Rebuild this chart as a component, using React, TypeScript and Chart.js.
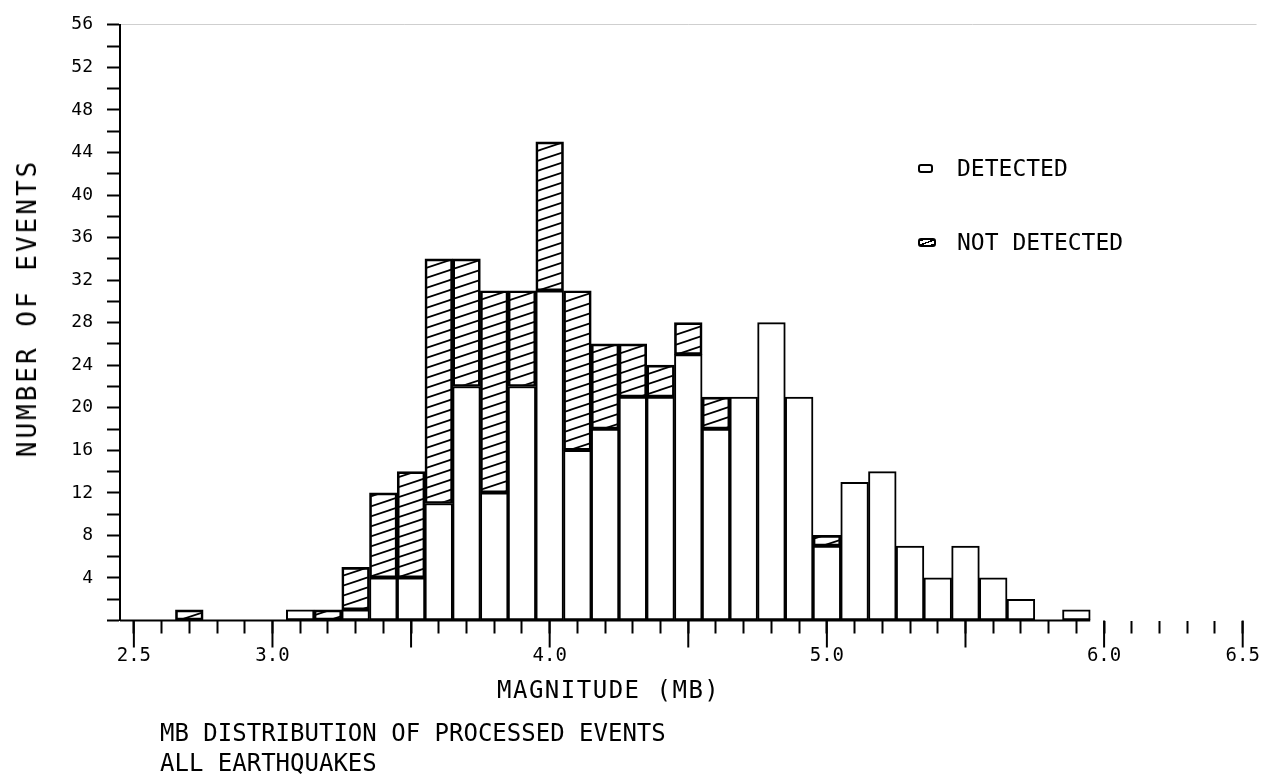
import React, { useEffect, useRef } from "react";
import { Chart, registerables } from "chart.js";

Chart.register(...registerables);

// Magnitude bins (centre of each 0.1-wide bin)
const MAGNITUDES = [
  2.5, 2.6, 2.7, 2.8, 2.9, 3.0, 3.1, 3.2, 3.3, 3.4, 3.5, 3.6, 3.7, 3.8,
  3.9, 4.0, 4.1, 4.2, 4.3, 4.4, 4.5, 4.6, 4.7, 4.8, 4.9, 5.0, 5.1, 5.2,
  5.3, 5.4, 5.5, 5.6, 5.7, 5.8, 5.9, 6.0, 6.1, 6.2, 6.3, 6.4, 6.5,
];
const DETECTED = [
  0, 0, 0, 0, 0, 0, 1, 0, 1, 4, 4, 11, 22, 12, 22, 31, 16, 18, 21, 21, 25,
  18, 21, 28, 21, 7, 13, 14, 7, 4, 7, 4, 2, 0, 1, 0, 0, 0, 0, 0, 0,
];
const NOT_DETECTED = [
  0, 0, 1, 0, 0, 0, 0, 1, 4, 8, 10, 23, 12, 19, 9, 14, 15, 8, 5, 3, 3, 3,
  0, 0, 0, 1, 0, 0, 0, 0, 0, 0, 0, 0, 0, 0, 0, 0, 0, 0, 0,
];
const BIN_WIDTH = 0.1;

// Axis ticks and labels
const X_LABEL_VALUES = [2.5, 3.0, 4.0, 5.0, 6.0, 6.5];
const X_LABEL_TEXT = ["2.5", "3.0", "4.0", "5.0", "6.0", "6.5"];
const X_LONG_TICKS = [2.5, 3.0, 3.5, 4.0, 4.5, 5.0, 5.5, 6.0, 6.5];
const Y_LABEL_VALUES = [4, 8, 12, 16, 20, 24, 28, 32, 36, 40, 44, 48, 52, 56];
const Y_MAX = 56;
const Y_STEP = 2;

const MONO = '"DejaVu Sans Mono", "Liberation Mono", monospace';

const LONG_TICK = 27;

// Draws the zero-level outline of the histogram and the long half-unit ticks
const plotterAxisPlugin = {
  id: "plotterAxis",
  afterDatasetsDraw(chart: any) {
    const { ctx, scales } = chart;
    const xs = scales.x;
    const ys = scales.y;
    let last = 0;
    MAGNITUDES.forEach((_, i) => {
      if (DETECTED[i] + NOT_DETECTED[i] > 0) last = i;
    });
    const y0 = ys.getPixelForValue(0);
    const xStart = xs.getPixelForValue(MAGNITUDES[0] - BIN_WIDTH / 2);
    const xEnd = xs.getPixelForValue(MAGNITUDES[last] + BIN_WIDTH / 2);
    ctx.save();
    ctx.strokeStyle = "#000";
    ctx.lineWidth = 2;
    ctx.beginPath();
    ctx.moveTo(xStart, y0);
    ctx.lineTo(xEnd, y0);
    ctx.stroke();
    X_LONG_TICKS.forEach((v) => {
      const px = xs.getPixelForValue(v);
      ctx.beginPath();
      ctx.moveTo(px, y0);
      ctx.lineTo(px, y0 + LONG_TICK);
      ctx.stroke();
    });
    ctx.restore();
  },
};

function makeHatch(ctx: CanvasRenderingContext2D) {
  const tile = document.createElement("canvas");
  tile.width = 30;
  tile.height = 10;
  const t = tile.getContext("2d")!;
  t.strokeStyle = "#000";
  t.lineWidth = 1.7;
  [-10, 0, 10].forEach((dy) => {
    t.beginPath();
    t.moveTo(-3, 11 + dy);
    t.lineTo(33, -1 + dy);
    t.stroke();
  });
  return ctx.createPattern(tile, "repeat");
}

export default function App() {
  const canvasRef = useRef<HTMLCanvasElement | null>(null);

  useEffect(() => {
    const canvas = canvasRef.current;
    if (!canvas) return;
    const ctx = canvas.getContext("2d")!;
    const hatch = makeHatch(ctx);

    const chart = new Chart(ctx, {
      type: "bar",
      data: {
        datasets: [
          {
            label: "DETECTED",
            data: MAGNITUDES.map((m, i) => ({ x: m, y: DETECTED[i] })),
            backgroundColor: "#ffffff",
            borderColor: "#000000",
            borderWidth: 2,
            borderSkipped: false,
            stack: "events",
          },
          {
            label: "NOT DETECTED",
            data: MAGNITUDES.map((m, i) => ({ x: m, y: NOT_DETECTED[i] })),
            backgroundColor: hatch as any,
            borderColor: "#000000",
            borderWidth: 2,
            borderSkipped: false,
            stack: "events",
          },
        ],
      },
      options: {
        responsive: false,
        animation: false,
        devicePixelRatio: 1,
        barPercentage: 1,
        categoryPercentage: 1,
        layout: { padding: { top: 21, right: 12, left: 0, bottom: 0 } },
        plugins: {
          legend: { display: false },
          tooltip: { enabled: false },
          title: { display: false },
        },
        scales: {
          x: {
            type: "linear",
            stacked: true,
            offset: false,
            min: MAGNITUDES[0] - BIN_WIDTH / 2,
            max: MAGNITUDES[MAGNITUDES.length - 1] + BIN_WIDTH / 2,
            afterBuildTicks: (scale: any) => {
              scale.ticks = MAGNITUDES.map((value) => ({ value }));
            },
            afterFit: (scale: any) => {
              scale.height = 162.5;
            },
            grid: {
              offset: false,
              drawOnChartArea: false,
              drawTicks: true,
              tickLength: 13,
              tickWidth: 2,
              tickColor: "#000",
              color: "#000",
            },
            border: { display: false },
            ticks: {
              autoSkip: false,
              maxRotation: 0,
              minRotation: 0,
              padding: 11,
              color: "#000",
              font: { family: MONO, size: 19 },
              callback: (value: any) => {
                const idx = X_LABEL_VALUES.findIndex(
                  (v) => Math.abs(v - Number(value)) < 1e-6
                );
                return idx >= 0 ? X_LABEL_TEXT[idx] : "";
              },
            },
          },
          y: {
            stacked: true,
            min: 0,
            max: Y_MAX,
            afterFit: (scale: any) => {
              scale.width = 120;
            },
            grid: {
              drawOnChartArea: true,
              drawTicks: true,
              tickLength: 13,
              tickWidth: 2,
              tickColor: "#000",
              lineWidth: 1,
              color: (c: any) =>
                c.tick && c.tick.value === Y_MAX
                  ? "#cfcfcf"
                  : "rgba(0,0,0,0)",
            },
            border: { display: true, color: "#000", width: 2 },
            ticks: {
              stepSize: Y_STEP,
              autoSkip: false,
              padding: 14,
              color: "#000",
              font: { family: MONO, size: 18 },
              callback: (value: any) =>
                Y_LABEL_VALUES.includes(Number(value)) ? String(value) : "",
            },
          },
        },
      },
      plugins: [plotterAxisPlugin],
    } as any);

    return () => chart.destroy();
  }, []);

  const text = (extra: React.CSSProperties): React.CSSProperties => ({
    position: "absolute",
    fontFamily: MONO,
    color: "#000",
    lineHeight: 1,
    whiteSpace: "nowrap",
    ...extra,
  });

  return (
    <div
      style={{
        position: "fixed",
        left: 0,
        top: 0,
        width: 1271,
        height: 783,
        background: "#fff",
        overflow: "hidden",
      }}
    >
      <canvas ref={canvasRef} width={1271} height={783} style={{ display: "block" }} />

      {/* legend */}
      <div
        style={{
          position: "absolute",
          left: 918,
          top: 164,
          width: 11,
          height: 5,
          border: "2px solid #000",
          borderRadius: 3,
        }}
      />
      <div style={text({ left: 957, top: 157, fontSize: 23 })}>DETECTED</div>
      <div
        style={{
          position: "absolute",
          left: 918,
          top: 238,
          width: 14,
          height: 5,
          border: "2.5px solid #000",
          borderRadius: 3,
          background:
            "repeating-linear-gradient(-20deg, #000 0 1.5px, transparent 1.5px 4px)",
        }}
      />
      <div style={text({ left: 957, top: 231, fontSize: 23 })}>NOT DETECTED</div>

      {/* axis titles and caption */}
      <div
        style={text({
          left: 27,
          top: 308,
          fontSize: 26,
          letterSpacing: 3,
          transform: "translate(-50%, -50%) rotate(-90deg)",
        })}
      >
        NUMBER OF EVENTS
      </div>
      <div style={text({ left: 497, top: 678, fontSize: 24, letterSpacing: 1.5 })}>
        MAGNITUDE (MB)
      </div>
      <div style={text({ left: 160, top: 721, fontSize: 24 })}>
        MB DISTRIBUTION OF PROCESSED EVENTS
      </div>
      <div style={text({ left: 160, top: 751, fontSize: 24 })}>ALL EARTHQUAKES</div>
    </div>
  );
}
